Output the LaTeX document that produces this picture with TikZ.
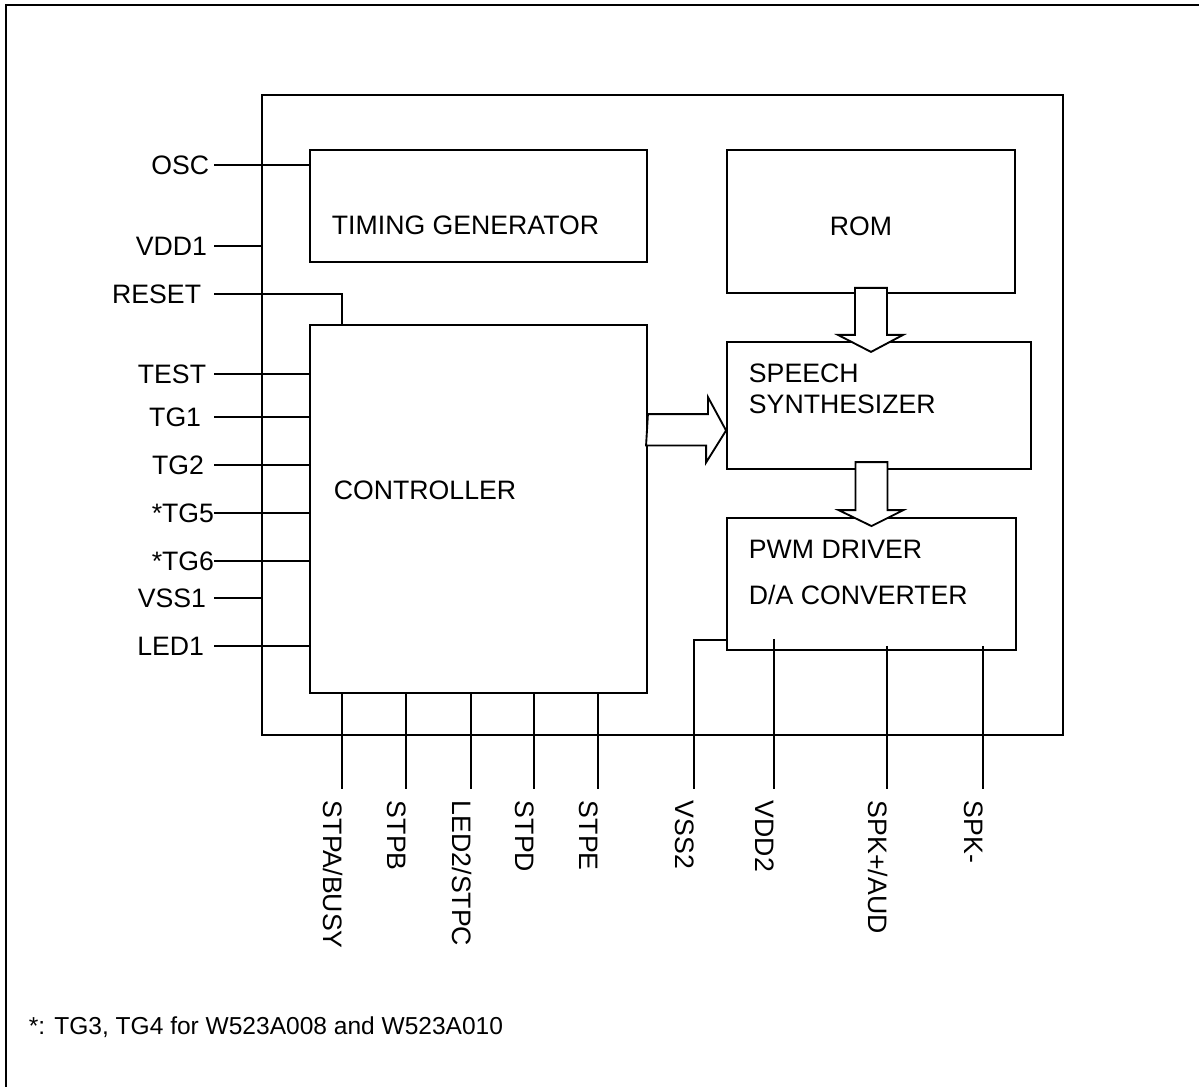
\documentclass[tikz,border=0pt]{standalone}
\usepackage{fontspec}
\setmainfont{Liberation Sans}
\usetikzlibrary{calc,fit}

\tikzset{every picture/.style={line width=1.4pt}}
\tikzset{
  blk/.style={draw, rectangle, inner sep=0pt},
  blktxt/.style={anchor=west, inner sep=0pt, text depth=0pt, font=\fontsize{20}{24}\selectfont},
  pinlbl/.style={anchor=east, inner sep=0pt, text depth=0pt, font=\fontsize{20}{24}\selectfont},
  btmlbl/.style={anchor=base west, rotate=-90, inner sep=0pt, font=\fontsize{20}{24}\selectfont},
  hollowarrow/.style={draw, fill=white, line join=miter}
}

\begin{document}
\begin{tikzpicture}[x=0.75pt,y=0.75pt,yscale=-1,xscale=1]
	\useasboundingbox (0,0) rectangle (1199,1087);

	%Frame
	\draw (6,1087) -- (6,5) -- (1199,5) ;

	%Shape: Chip outline
	\node[blk, fit={(262,95) (1063,735)}] (chip) {};
	%Shape: Blocks
	\node[blk, fit={(310,150) (647,262)}] (tgen) {};
	\node[blk, fit={(727,150) (1015,293)}] (rom) {};
	\node[blk, fit={(727,342) (1031,469)}] (synth) {};
	\node[blk, fit={(727,518) (1016,650)}] (pwm) {};
	\node[blk, fit={(310,325) (647,693)}] (ctrl) {};

	% Text Node
	\node[blktxt] (ttgen) at (331,225.5) {TIMING GENERATOR};
	% Text Node
	\node[blktxt, anchor=center] (trom) at (861,226) {ROM};
	% Text Node
	\node[blktxt] (tsp1) at (748,373.5) {SPEECH};
	% Text Node
	\node[blktxt] (tsp2) at (748,404.5) {SYNTHESIZER};
	% Text Node
	\node[blktxt] (tpwm1) at (748,549.5) {PWM DRIVER};
	% Text Node
	\node[blktxt] (tpwm2) at (748,594.5) {D/A CONVERTER};
	% Text Node
	\node[blktxt] (tctrl) at (333,490) {CONTROLLER};

	%Block arrows
	\draw[hollowarrow] ($(rom.south)+(-16,-6)$) -- ++(32,0) -- ++(0,47) -- ++(16,0) -- ($(rom.south)+(0,58)$) -- ++(-33,-17) -- ++(17,0) -- cycle ;
	\draw[hollowarrow] ($(pwm.north)+(-16,-55)$) -- ++(32,0) -- ++(0,48) -- ++(16,0) -- ($(pwm.north)+(0,9)$) -- ++(-33,-16) -- ++(17,0) -- cycle ;
	\draw[hollowarrow] ($(ctrl.north east)+(0,90)$) -- ++(60,0) -- ++(0,-17) -- ($(synth.west)+(0,25)$) -- ++(-20,32) -- ++(0,-17) -- ++(-60,0) -- cycle ;

	%Left pins
	\coordinate (pOSC) at (214,165);
	\coordinate (pVDD1) at (214,246);
	\coordinate (pRST) at (214,294);
	\coordinate (pTEST) at (214,374);
	\coordinate (pTG1) at (214,417);
	\coordinate (pTG2) at (214,465);
	\coordinate (pTG5) at (214,513);
	\coordinate (pTG6) at (214,561);
	\coordinate (pVSS1) at (214,598);
	\coordinate (pLED1) at (214,646);
	\draw (pOSC) -- (tgen.west |- pOSC) ;
	\draw (pVDD1) -- (chip.west |- pVDD1) ;
	\draw (pRST) -| ($(ctrl.north west)+(33,0)$) ;
	\draw (pTEST) -- (ctrl.west |- pTEST) ;
	\draw (pTG1) -- (ctrl.west |- pTG1) ;
	\draw (pTG2) -- (ctrl.west |- pTG2) ;
	\draw (pTG5) -- (ctrl.west |- pTG5) ;
	\draw (pTG6) -- (ctrl.west |- pTG6) ;
	\draw (pVSS1) -- (chip.west |- pVSS1) ;
	\draw (pLED1) -- (ctrl.west |- pLED1) ;

	% Text Node
	\node[pinlbl] (lOSC) at (210,165) {OSC};
	% Text Node
	\node[pinlbl] (lVDD1) at (208,246) {VDD1};
	% Text Node
	\node[pinlbl] (lRST) at (202,294) {RESET};
	% Text Node
	\node[pinlbl] (lTEST) at (207,374) {TEST};
	% Text Node
	\node[pinlbl] (lTG1) at (202,417) {TG1};
	% Text Node
	\node[pinlbl] (lTG2) at (205,465) {TG2};
	% Text Node
	\node[pinlbl] (lTG5) at (215,513) {*TG5};
	% Text Node
	\node[pinlbl] (lTG6) at (215,561) {*TG6};
	% Text Node
	\node[pinlbl] (lVSS1) at (207,598) {VSS1};
	% Text Node
	\node[pinlbl] (lLED1) at (205,646) {LED1};

	%Bottom pins
	\coordinate (pSTPA) at (342,789);
	\coordinate (pSTPB) at (406,789);
	\coordinate (pSTPC) at (471,789);
	\coordinate (pSTPD) at (534,789);
	\coordinate (pSTPE) at (598,789);
	\coordinate (pVSS2) at (694,789);
	\coordinate (pVDD2) at (774,789);
	\coordinate (pSPKP) at (887,789);
	\coordinate (pSPKM) at (983,789);
	\draw (ctrl.south -| pSTPA) -- (pSTPA) ;
	\draw (ctrl.south -| pSTPB) -- (pSTPB) ;
	\draw (ctrl.south -| pSTPC) -- (pSTPC) ;
	\draw (ctrl.south -| pSTPD) -- (pSTPD) ;
	\draw (ctrl.south -| pSTPE) -- (pSTPE) ;
	\draw ($(pwm.south west)+(0,-11)$) -| (pVSS2) ;
	\draw ($(pwm.south -| pVDD2)+(0,-12)$) -- (pVDD2) ;
	\draw ($(pwm.south -| pSPKP)+(0,-5)$) -- (pSPKP) ;
	\draw ($(pwm.south -| pSPKM)+(0,-5)$) -- (pSPKM) ;

	% Text Node
	\node[btmlbl] (lSTPA) at ($(pSTPA)+(-19,11)$) {STPA/BUSY};
	% Text Node
	\node[btmlbl] (lSTPB) at ($(pSTPB)+(-19,11)$) {STPB};
	% Text Node
	\node[btmlbl] (lSTPC) at ($(pSTPC)+(-19,11)$) {LED2/STPC};
	% Text Node
	\node[btmlbl] (lSTPD) at ($(pSTPD)+(-19,11)$) {STPD};
	% Text Node
	\node[btmlbl] (lSTPE) at ($(pSTPE)+(-19,11)$) {STPE};
	% Text Node
	\node[btmlbl] (lVSS2) at ($(pVSS2)+(-19,11)$) {VSS2};
	% Text Node
	\node[btmlbl] (lVDD2) at ($(pVDD2)+(-19,11)$) {VDD2};
	% Text Node
	\node[btmlbl] (lSPKP) at ($(pSPKP)+(-19,11)$) {SPK+/AUD};
	% Text Node
	\node[btmlbl] (lSPKM) at ($(pSPKM)+(-19,11)$) {SPK-};

	% Text Node
	\node[anchor=base west, inner sep=0pt, font=\fontsize{18.4}{22}\selectfont] (note) at (28,1034) {*: TG3, TG4 for W523A008 and W523A010};

\end{tikzpicture}
\end{document}
